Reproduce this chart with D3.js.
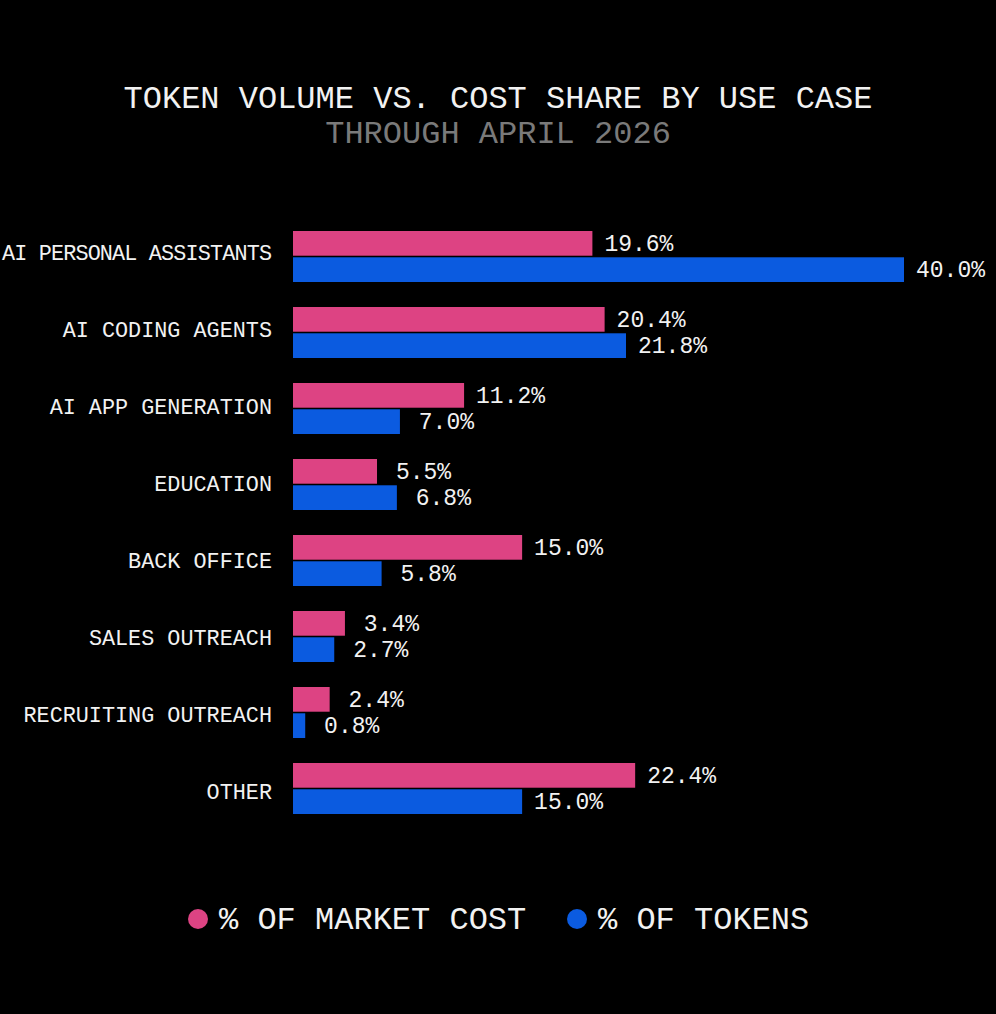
<!DOCTYPE html>
<html><head><meta charset="utf-8">
<script src="https://cdn.jsdelivr.net/npm/d3@7"></script>
<style>html,body{margin:0;padding:0;background:#000;}svg{display:block;}</style>
</head><body>
<svg id="chart" width="996" height="1014"></svg>
<script>
const categories = ["AI PERSONAL ASSISTANTS","AI CODING AGENTS","AI APP GENERATION","EDUCATION","BACK OFFICE","SALES OUTREACH","RECRUITING OUTREACH","OTHER"];
const marketCost = [19.6, 20.4, 11.2, 5.5, 15.0, 3.4, 2.4, 22.4];
const tokens = [40.0, 21.8, 7.0, 6.8, 5.8, 2.7, 0.8, 15.0];
const seriesNames = ["% OF MARKET COST", "% OF TOKENS"];
const seriesColors = ["#DD4383", "#0B5BE0"];
const title = "TOKEN VOLUME VS. COST SHARE BY USE CASE";
const subtitle = "THROUGH APRIL 2026";

const FONT = "'Liberation Mono', 'DejaVu Sans Mono', monospace";
const svg = d3.select("#chart");
svg.append("rect").attr("width",996).attr("height",1014).attr("fill","#000");

svg.append("text").attr("x",498).attr("y",108).attr("text-anchor","middle")
  .attr("font-family",FONT).attr("font-size",32).attr("fill","#f2f2f2").text(title);
svg.append("text").attr("x",498).attr("y",143).attr("text-anchor","middle")
  .attr("font-family",FONT).attr("font-size",32).attr("fill","#7a7a7a").text(subtitle);

const x = d3.scaleLinear().domain([0,40]).range([293,904]);
const y0 = d3.scaleBand().domain(categories).range([219,827]).paddingInner(0).paddingOuter(0);
const y1 = d3.scaleBand().domain([0,1]).range([12, 63]).paddingInner(0.06);
const yLabel = d3.scaleBand().domain(categories).range([215.5, 831.5]);

const data = categories.map((c,i)=>({cat:c, vals:[marketCost[i], tokens[i]]}));

// category labels
svg.append("g").selectAll("text").data(data).join("text")
  .attr("x",272).attr("y", d=>yLabel(d.cat)+yLabel.bandwidth()/2)
  .attr("text-anchor","end").attr("dominant-baseline","central")
  .attr("font-family",FONT).attr("font-size",21.8).attr("fill","#f2f2f2")
  .text(d=>d.cat)
  .each(function(){
    const w = this.getComputedTextLength();
    if (w > 270) d3.select(this).attr("textLength",270).attr("lengthAdjust","spacing");
  });

const groups = svg.append("g").selectAll("g.grp").data(data).join("g").attr("class","grp")
  .attr("transform", d=>`translate(0,${y0(d.cat)})`);

groups.selectAll("rect").data(d=>d.vals.map((v,k)=>({v,k}))).join("rect")
  .attr("x", x(0)).attr("y", d=>y1(d.k))
  .attr("width", d=>x(d.v)-x(0)).attr("height", y1.bandwidth())
  .attr("fill", d=>seriesColors[d.k]);

groups.selectAll("text.val").data(d=>d.vals.map((v,k)=>({v,k}))).join("text")
  .attr("class","val")
  .attr("x", d=>x(d.v)+46.5).attr("y", d=>y1(d.k)+y1.bandwidth()/2+1.5)
  .attr("text-anchor","middle")
  .attr("dominant-baseline","central")
  .attr("font-family",FONT).attr("font-size",23).attr("fill","#f2f2f2")
  .text(d=>d.v.toFixed(1)+"%");

// legend
const legendX = [198, 577];
const lg = svg.append("g");
seriesNames.forEach((n,k)=>{
  lg.append("circle").attr("cx",legendX[k]).attr("cy",919).attr("r",10).attr("fill",seriesColors[k]);
  lg.append("text").attr("x",legendX[k]+21).attr("y",920).attr("dominant-baseline","central")
    .attr("font-family",FONT).attr("font-size",32).attr("fill","#f2f2f2").text(n);
});
</script>
</body></html>
